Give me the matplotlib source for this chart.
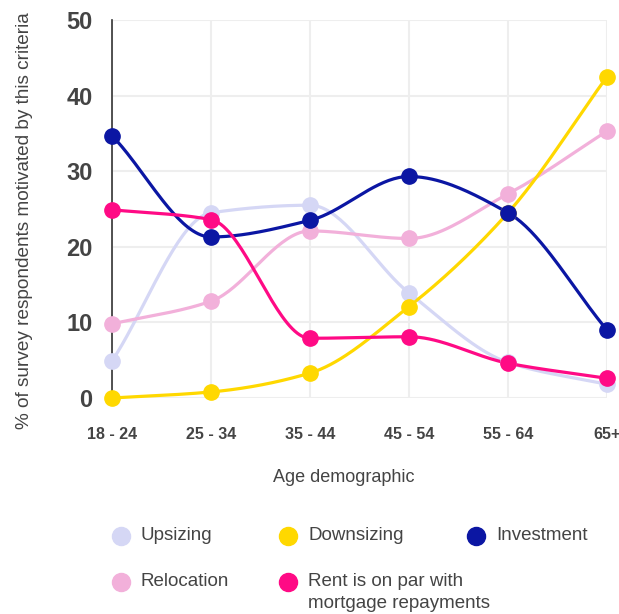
import numpy as np
import matplotlib.pyplot as plt
from matplotlib.lines import Line2D

plt.rcParams['font.family'] = ['Liberation Sans', 'DejaVu Sans']

ages = ['18 - 24', '25 - 34', '35 - 44', '45 - 54', '55 - 64', '65+']
upsizing = [4.9, 24.5, 25.5, 13.9, 4.7, 1.8]
downsizing = [0.0, 0.8, 3.3, 12.1, 24.5, 42.5]
investment = [34.7, 21.3, 23.5, 29.3, 24.5, 9.0]
relocation = [9.8, 12.8, 22.1, 21.1, 27.0, 35.3]
rent = [24.9, 23.6, 7.9, 8.1, 4.6, 2.6]

series = [
    ('Upsizing', upsizing, '#d5d7f5'),
    ('Relocation', relocation, '#f2b0da'),
    ('Downsizing', downsizing, '#ffd800'),
    ('Investment', investment, '#0b16a3'),
    ('Rent is on par with\nmortgage repayments', rent, '#ff0a85'),
]


def monotone(xs, ys, n=40):
    # monotone cubic (Fritsch-Carlson) for smooth lines through the points
    xs = np.asarray(xs, float)
    ys = np.asarray(ys, float)
    h = np.diff(xs)
    d = np.diff(ys) / h
    m = np.zeros_like(ys)
    m[0], m[-1] = d[0], d[-1]
    for i in range(1, len(ys) - 1):
        if d[i - 1] * d[i] <= 0:
            m[i] = 0
        else:
            m[i] = 2 / (1 / d[i - 1] + 1 / d[i])
    px, py = [], []
    for i in range(len(h)):
        t = np.linspace(0, 1, n)
        h00 = 2 * t**3 - 3 * t**2 + 1
        h10 = t**3 - 2 * t**2 + t
        h01 = -2 * t**3 + 3 * t**2
        h11 = t**3 - t**2
        px.append(xs[i] + t * h[i])
        py.append(h00 * ys[i] + h10 * h[i] * m[i] + h01 * ys[i + 1] + h11 * h[i] * m[i + 1])
    return np.concatenate(px), np.concatenate(py)


fig = plt.figure(figsize=(6.19, 6.14), dpi=100)
ax = fig.add_axes([112 / 619, 1 - 398 / 614, 495 / 619, 378 / 614])

x = np.arange(len(ages))
for name, vals, col in series:
    sx, sy = monotone(x, vals)
    ax.plot(sx, sy, color=col, lw=2.3, clip_on=False, zorder=3)
    ax.plot(x, vals, 'o', color=col, ms=11, clip_on=False, zorder=4)

ax.set_xlim(0, 5)
ax.set_ylim(0, 50)
ax.set_yticks([0, 10, 20, 30, 40, 50])
ax.set_xticks(x)
ax.set_xticklabels(ages)
ax.grid(True, color='#eeeeee', lw=1.5)
ax.set_axisbelow(True)
for s in ['top', 'right', 'bottom']:
    ax.spines[s].set_visible(False)
ax.spines['left'].set_color('#333333')
ax.spines['left'].set_linewidth(1.2)
ax.tick_params(length=0)
ax.tick_params(axis='y', pad=14, labelsize=17, labelcolor='#444444')
ax.tick_params(axis='x', pad=21, labelsize=11.5, labelcolor='#444444')
for lab in ax.get_xticklabels() + ax.get_yticklabels():
    lab.set_fontweight('bold')

fig.text(25 / 619, 1 - 221 / 614, '% of survey respondents motivated by this criteria',
         rotation=90, ha='center', va='center', fontsize=13.7, color='#444444')
fig.text(344 / 619, 1 - 477 / 614, 'Age demographic', ha='center', va='center',
         fontsize=13, color='#444444')

# legend drawn by hand
leg = [
    ('Upsizing', '#d5d7f5', 121, 536),
    ('Downsizing', '#ffd800', 288, 536),
    ('Investment', '#0b16a3', 476, 536),
    ('Relocation', '#f2b0da', 121, 582),
    ('Rent is on par with', '#ff0a85', 288, 582),
]
for name, col, lx, ly in leg:
    fig.add_artist(Line2D([lx / 619], [1 - ly / 614], marker='o', ms=13, color=col,
                          lw=0, transform=fig.transFigure))
    fig.text((lx + 20) / 619, 1 - ly / 614, name, ha='left', va='center',
             fontsize=13.5, color='#444444')
fig.text(308 / 619, 1 - 604 / 614, 'mortgage repayments', ha='left', va='center',
         fontsize=13.5, color='#444444')

fig.savefig('out.png', dpi=100)
